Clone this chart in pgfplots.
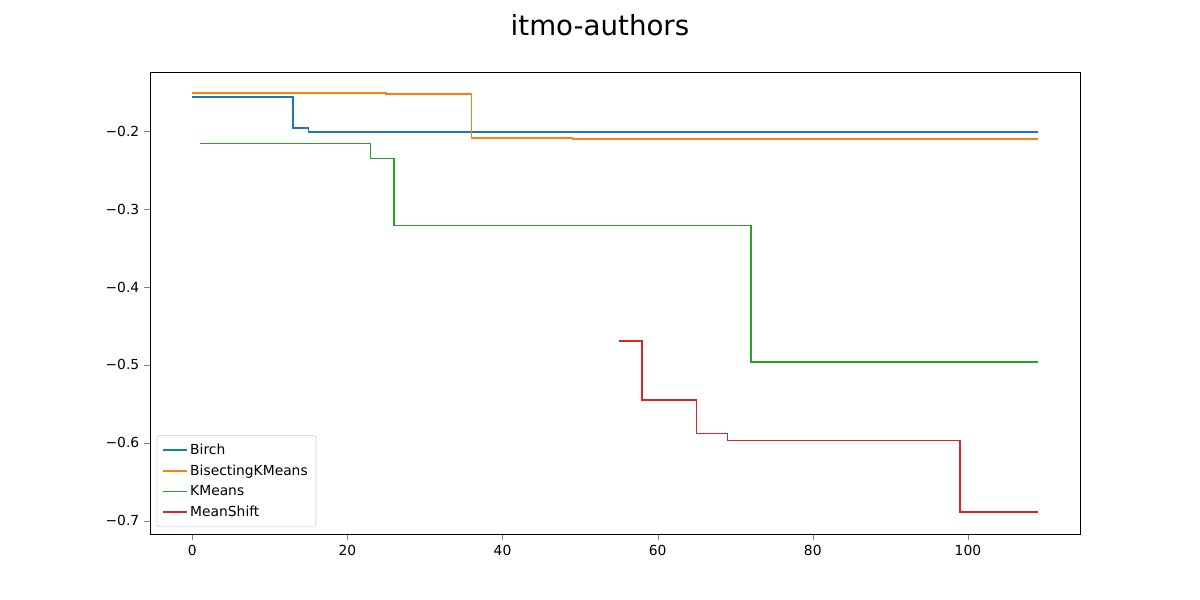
\documentclass[border=0pt]{standalone}
\usepackage{pgfplots}
\pgfplotsset{compat=1.18}
\usepackage{fontspec}
\setmainfont{DejaVu Sans}
\definecolor{c1}{HTML}{1F77B4}
\definecolor{c2}{HTML}{FF7F0E}
\definecolor{c3}{HTML}{2CA02C}
\definecolor{c4}{HTML}{D62728}
\begin{document}
\begin{tikzpicture}
\path (0,0) rectangle (12in,6in);
\node at (6in,5.75in) {\fontsize{20}{24}\selectfont itmo-authors};
\begin{axis}[at={(1.5in,0.66in)}, anchor=south west, scale only axis,
 width=9.3in, height=4.62in,
 xmin=-5.45, xmax=114.45, ymin=-0.717, ymax=-0.124,
 xtick={0,20,40,60,80,100}, ytick={-0.7,-0.6,-0.5,-0.4,-0.3,-0.2},
 yticklabels={−0.7,−0.6,−0.5,−0.4,−0.3,−0.2},
 /pgf/number format/assume math mode=true,
 tick label style={font=\fontsize{10}{12}\selectfont},
 tick align=outside, xtick pos=bottom, ytick pos=left,
 legend style={at={(0.007,0.015)}, anchor=south west, font=\fontsize{10}{12}\selectfont, draw=black!20, rounded corners=2pt, row sep=2pt, inner sep=4pt},
 legend cell align=left,
 legend image code/.code={\draw[#1] (0cm,0cm) -- (0.6cm,0cm);},
 every axis plot/.append style={line width=1.1pt, line join=miter, mark=none}]
\addplot[c1, const plot] coordinates {(0,-0.156)(13,-0.196)(15,-0.201)(109,-0.201)};
\addplot[c2, const plot] coordinates {(0,-0.151)(25,-0.152)(36,-0.209)(49,-0.210)(109,-0.210)};
\addplot[c3, const plot] coordinates {(1,-0.216)(23,-0.235)(26,-0.321)(72,-0.496)(109,-0.496)};
\addplot[c4, const plot] coordinates {(55,-0.469)(58,-0.545)(65,-0.588)(69,-0.597)(99,-0.689)(109,-0.689)};
\legend{Birch,BisectingKMeans,KMeans,MeanShift}
\end{axis}
\end{tikzpicture}
\end{document}
